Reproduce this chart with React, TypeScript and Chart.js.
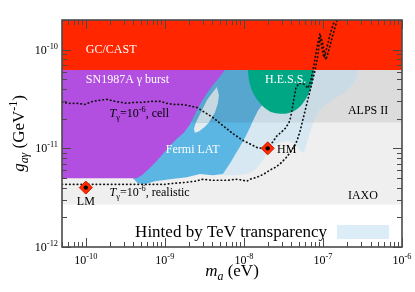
import React, { useEffect, useRef } from 'react';
import { Chart, registerables } from 'chart.js';

Chart.register(...registerables);

type Pt = [number, number];

// ---------- axes ----------
const xMin = 5e-11;
const xMax = 1e-6;
const yMin = 1e-12;
const yMax = 2e-10;
const xTickValues = [1e-10, 1e-9, 1e-8, 1e-7, 1e-6];
const yTickValues = [1e-12, 1e-11, 1e-10];

// ---------- regions: [m_a (eV), g_agamma (GeV^-1)] ----------
const iaxoBand: Pt[] = [[4.9e-11, 2.7e-12], [1.1e-6, 2.7e-12], [1.1e-6, 2.2e-10], [4.9e-11, 2.2e-10]];
const alpsBand: Pt[] = [[4.9e-11, 1.83e-11], [1.1e-6, 1.83e-11], [1.1e-6, 2.2e-10], [4.9e-11, 2.2e-10]];
const castRegion: Pt[] = [[4.9e-11, 6.24e-11], [1.1e-6, 6.24e-11], [1.1e-6, 2.2e-10], [4.9e-11, 2.2e-10]];

const hintedRegion: Pt[] = [
  [2.77e-9, 7.89e-11], [2.77e-7, 7.89e-11], [2.77e-7, 6.24e-11], [2.69e-7, 5.16e-11],
  [2.33e-7, 4.38e-11], [1.90e-7, 3.71e-11], [1.50e-7, 3.30e-11], [1.30e-7, 3.00e-11],
  [1.09e-7, 2.79e-11], [8.90e-8, 2.42e-11], [7.69e-8, 1.91e-11], [6.84e-8, 1.44e-11],
  [6.27e-8, 1.14e-11], [5.74e-8, 8.99e-12], [5.12e-8, 9.43e-12], [4.42e-8, 1.11e-11],
  [3.61e-8, 1.19e-11], [2.69e-8, 1.14e-11], [2.26e-8, 1.01e-11], [1.90e-8, 8.58e-12],
  [1.64e-8, 7.10e-12], [1.38e-8, 6.02e-12], [1.09e-8, 5.48e-12], [7.69e-9, 5.35e-12],
  [5.74e-9, 5.35e-12], [4.30e-9, 5.61e-12], [3.21e-9, 7.44e-12], [2.07e-9, 1.34e-11],
  [2.40e-9, 2.42e-11], [3.71e-9, 4.38e-11],
];

const fermiLat: Pt[] = [
  [3.6e-10, 7.89e-11], [1.69e-8, 7.89e-11], [1.69e-8, 2.73e-11], [1.50e-8, 2.42e-11],
  [1.34e-8, 2.01e-11], [1.19e-8, 1.62e-11], [1.03e-8, 1.28e-11], [8.90e-9, 1.04e-11],
  [7.69e-9, 8.58e-12], [6.84e-9, 7.27e-12], [6.09e-9, 6.31e-12], [5.42e-9, 5.48e-12],
  [4.05e-9, 5.35e-12], [2.77e-9, 5.48e-12], [1.90e-9, 5.10e-12], [1.16e-9, 4.86e-12],
  [7.47e-10, 4.64e-12], [5.58e-10, 4.32e-12], [4.55e-10, 4.43e-12], [3.94e-10, 4.98e-12],
  [3.6e-10, 5.88e-12],
];

const fermiLatUpper: Pt[] = [
  [4.30e-9, 7.89e-11], [1.69e-8, 7.89e-11], [1.69e-8, 2.73e-11], [1.50e-8, 2.42e-11],
  [1.34e-8, 2.01e-11], [1.26e-8, 1.83e-11], [1.79e-9, 1.83e-11],
];

const sn1987a: Pt[] = [
  [4.9e-11, 7.89e-11], [6.27e-9, 7.89e-11], [5.74e-9, 6.24e-11], [4.83e-9, 5.16e-11],
  [4.05e-9, 4.38e-11], [3.40e-9, 3.62e-11], [2.94e-9, 3.00e-11], [2.62e-9, 2.54e-11],
  [2.33e-9, 2.10e-11], [2.07e-9, 1.74e-11], [1.74e-9, 1.44e-11], [1.42e-9, 1.25e-11],
  [1.16e-9, 1.06e-11], [9.44e-10, 8.78e-12], [7.69e-10, 7.27e-12], [6.27e-10, 6.17e-12],
  [5.12e-10, 5.35e-12], [4.42e-10, 4.98e-12], [4.9e-11, 4.98e-12],
];

const gapUpper: Pt[] = [
  [4.55e-9, 4.18e-11], [4.83e-9, 3.45e-11], [4.69e-9, 2.86e-11], [4.30e-9, 2.31e-11],
  [3.71e-9, 1.91e-11], [3.61e-9, 1.83e-11], [2.47e-9, 1.83e-11], [2.54e-9, 1.91e-11],
  [2.94e-9, 2.42e-11], [3.40e-9, 3.07e-11], [3.94e-9, 3.62e-11],
];
const gapLower: Pt[] = [
  [3.61e-9, 1.83e-11], [3.21e-9, 1.66e-11], [2.69e-9, 1.48e-11], [2.40e-9, 1.44e-11],
  [2.33e-9, 1.58e-11], [2.47e-9, 1.83e-11],
];

const hess: Pt[] = [
  [1.06e-8, 7.89e-11], [1.12e-8, 6.24e-11], [1.16e-8, 4.92e-11], [1.26e-8, 3.89e-11],
  [1.46e-8, 3.14e-11], [1.74e-8, 2.67e-11], [2.13e-8, 2.37e-11], [2.69e-8, 2.26e-11],
  [3.50e-8, 2.26e-11], [4.42e-8, 2.42e-11], [5.42e-8, 2.79e-11], [6.46e-8, 3.45e-11],
  [7.26e-8, 4.48e-11], [7.69e-8, 5.95e-11], [7.92e-8, 7.89e-11],
];

// ---------- T_gamma = 1e-6 contours ----------
const cellLine: Pt[] = [
  [5.0e-11, 2.93e-11], [6.27e-11, 2.86e-11], [7.69e-11, 2.86e-11], [9.71e-11, 2.79e-11],
  [1.23e-10, 3.00e-11], [1.50e-10, 3.07e-11], [1.84e-10, 3.14e-11], [2.33e-10, 3.00e-11],
  [3.30e-10, 2.86e-11], [4.17e-10, 2.93e-11], [5.27e-10, 2.93e-11], [7.05e-10, 3.00e-11],
  [8.65e-10, 3.00e-11], [1.06e-9, 2.86e-11], [1.26e-9, 2.79e-11], [1.55e-9, 2.79e-11],
  [1.90e-9, 2.73e-11], [2.54e-9, 2.60e-11], [3.21e-9, 2.31e-11], [4.05e-9, 2.06e-11],
  [5.42e-9, 1.70e-11], [7.26e-9, 1.41e-11], [9.44e-9, 1.22e-11], [1.19e-8, 1.11e-11],
  [1.50e-8, 1.01e-11], [2.01e-8, 9.9e-12], [2.33e-8, 1.17e-11], [2.62e-8, 1.34e-11],
  [3.03e-8, 1.48e-11], [3.40e-8, 1.62e-11], [3.82e-8, 1.91e-11], [4.05e-8, 2.42e-11],
  [4.30e-8, 3.22e-11], [4.55e-8, 4.08e-11], [4.97e-8, 4.59e-11], [5.74e-8, 4.48e-11],
  [6.46e-8, 4.08e-11], [7.05e-8, 4.92e-11], [7.69e-8, 7.02e-11], [8.39e-8, 1.05e-10],
  [9.16e-8, 1.46e-10], [1.0e-7, 1.12e-10], [1.09e-7, 7.89e-11], [1.19e-7, 1.0e-10],
  [1.34e-7, 1.43e-10], [1.55e-7, 2.13e-10],
];

const realisticLine: Pt[] = [
  [5.0e-11, 4.32e-12], [1.50e-10, 4.32e-12], [4.42e-10, 4.32e-12], [1.0e-9, 4.32e-12],
  [1.34e-9, 4.43e-12], [1.90e-9, 4.53e-12], [2.40e-9, 4.64e-12], [3.03e-9, 4.86e-12],
  [3.94e-9, 4.75e-12], [4.97e-9, 4.75e-12], [6.27e-9, 4.75e-12], [8.15e-9, 4.86e-12],
  [9.71e-9, 4.75e-12], [1.09e-8, 4.64e-12], [1.19e-8, 4.86e-12], [1.46e-8, 5.10e-12],
  [1.79e-8, 5.48e-12], [2.13e-8, 6.02e-12], [2.54e-8, 6.46e-12], [2.94e-8, 7.10e-12],
  [3.40e-8, 8.00e-12], [3.82e-8, 8.99e-12], [4.30e-8, 1.04e-11], [4.69e-8, 1.19e-11],
  [5.12e-8, 1.48e-11], [5.58e-8, 1.96e-11], [6.09e-8, 2.60e-11], [6.65e-8, 3.45e-11],
  [7.26e-8, 4.59e-11], [7.92e-8, 6.09e-11], [8.65e-8, 8.89e-11], [9.16e-8, 1.33e-10],
  [9.71e-8, 1.05e-10], [1.03e-7, 8.28e-11], [1.12e-7, 1.05e-10], [1.26e-7, 1.53e-10],
  [1.42e-7, 2.03e-10],
];

// ---------- benchmark models ----------
const markerNames = ['LM', 'HM'];
const markerM = [1e-10, 2.0e-8];
const markerG = [4.0e-12, 1.0e-11];

// ---------- region labels ----------
const labelTexts = ['GC/CAST', 'SN1987A γ burst', 'H.E.S.S.', 'Fermi LAT', 'ALPS II', 'IAXO', 'HM', 'LM'];
const labelM = [1e-10, 1e-10, 1.85e-8, 1.03e-9, 2.07e-7, 2.07e-7, 2.62e-8, 1e-10];
const labelG = [9.31e-11, 4.59e-11, 4.59e-11, 8.99e-12, 2.21e-11, 3.10e-12, 8.99e-12, 2.64e-12];
const labelColors = ['#fff', '#fff', '#fff', '#fff', '#000', '#000', '#000', '#000'];
const labelAlign = ['left', 'left', 'left', 'left', 'left', 'left', 'left', 'center'];

const contourLabelSuffix = [', cell', ', realistic'];
const contourLabelM = [2.0e-10, 2.0e-10];
const contourLabelG = [2.06e-11, 3.26e-12];

const legendLabel = 'Hinted by TeV transparency';

// ---------- helpers ----------
const FONT = '"Liberation Serif", "Times New Roman", Times, serif';

type Seg = { t: string; it?: boolean; sub?: boolean; sup?: boolean };

function segFont(s: Seg, size: number) {
  const sz = s.sub || s.sup ? size * 0.7 : size;
  return `${s.it ? 'italic ' : ''}${sz}px ${FONT}`;
}
function richWidth(ctx: CanvasRenderingContext2D, segs: Seg[], size: number) {
  let w = 0;
  for (const s of segs) {
    ctx.font = segFont(s, size);
    w += ctx.measureText(s.t).width;
  }
  return w;
}
function drawRich(ctx: CanvasRenderingContext2D, segs: Seg[], x: number, y: number, size: number, align: string) {
  const total = richWidth(ctx, segs, size);
  let cx = align === 'center' ? x - total / 2 : align === 'right' ? x - total : x;
  ctx.textBaseline = 'alphabetic';
  ctx.textAlign = 'left';
  for (const s of segs) {
    ctx.font = segFont(s, size);
    const dy = s.sub ? size * 0.25 : s.sup ? -size * 0.42 : 0;
    ctx.fillText(s.t, cx, y + dy);
    cx += ctx.measureText(s.t).width;
  }
}
const decadeSegs = (v: number): Seg[] => [{ t: '10' }, { t: String(Math.round(Math.log10(v))), sup: true }];

const toXY = (pts: Pt[]) => pts.map(([x, y]) => ({ x, y }));

function region(pts: Pt[], color: string, tension = 0) {
  return {
    type: 'line' as const,
    data: toXY(pts),
    fill: 'shape',
    backgroundColor: color,
    borderWidth: 0,
    pointRadius: 0,
    tension,
  };
}
function dotted(pts: Pt[]) {
  return {
    type: 'line' as const,
    data: toXY(pts),
    fill: false,
    borderColor: '#111',
    borderWidth: 1.7,
    borderDash: [0.5, 3.3],
    borderCapStyle: 'round',
    pointRadius: 0,
    tension: 0,
  };
}

const overlayPlugin = {
  id: 'overlay',
  afterDatasetsDraw(chart: any) {
    const ctx: CanvasRenderingContext2D = chart.ctx;
    const xs = chart.scales.x;
    const ys = chart.scales.y;
    const a = chart.chartArea;
    ctx.save();
    ctx.beginPath();
    ctx.rect(a.left, a.top, a.right - a.left, a.bottom - a.top);
    ctx.clip();
    labelTexts.forEach((t, i) => {
      ctx.fillStyle = labelColors[i];
      drawRich(ctx, [{ t }], xs.getPixelForValue(labelM[i]), ys.getPixelForValue(labelG[i]), 12, labelAlign[i]);
    });
    ctx.fillStyle = '#000';
    contourLabelSuffix.forEach((suf, i) => {
      drawRich(
        ctx,
        [{ t: 'T', it: true }, { t: 'γ', sub: true }, { t: '=10' }, { t: '-6', sup: true }, { t: suf }],
        xs.getPixelForValue(contourLabelM[i]),
        ys.getPixelForValue(contourLabelG[i]),
        12,
        'left'
      );
    });
    // legend
    const boxRight = a.right - 13;
    const boxLeft = boxRight - 52;
    const boxBottom = a.bottom - 8;
    ctx.fillStyle = '#dcedf8';
    ctx.fillRect(boxLeft, boxBottom - 14, 52, 14);
    ctx.fillStyle = '#000';
    drawRich(ctx, [{ t: legendLabel }], boxLeft - 10, a.bottom - 10, 17, 'right');
    ctx.restore();
  },
  afterDraw(chart: any) {
    const ctx: CanvasRenderingContext2D = chart.ctx;
    const xs = chart.scales.x;
    const ys = chart.scales.y;
    const { left, right, top, bottom } = chart.chartArea;
    ctx.save();
    ctx.strokeStyle = '#4a4a4a';
    ctx.lineWidth = 1;
    ctx.beginPath();
    for (let e = -11; e <= -6; e++) {
      for (let k = 1; k <= 9; k++) {
        const v = k * Math.pow(10, e);
        if (v < xMin * 0.999 || v > xMax * 1.001) continue;
        const px = Math.round(xs.getPixelForValue(v)) + 0.5;
        const len = k === 1 ? 9 : 5;
        ctx.moveTo(px, bottom);
        ctx.lineTo(px, bottom - len);
        ctx.moveTo(px, top);
        ctx.lineTo(px, top + len);
      }
    }
    for (let e = -13; e <= -9; e++) {
      for (let k = 1; k <= 9; k++) {
        const v = k * Math.pow(10, e);
        if (v < yMin * 0.999 || v > yMax * 1.001) continue;
        const py = Math.round(ys.getPixelForValue(v)) + 0.5;
        const len = k === 1 ? 9 : 5;
        ctx.moveTo(left, py);
        ctx.lineTo(left + len, py);
        ctx.moveTo(right, py);
        ctx.lineTo(right - len, py);
      }
    }
    ctx.stroke();
    ctx.lineWidth = 1.6;
    ctx.strokeRect(left, top, right - left, bottom - top);

    // tick labels
    ctx.fillStyle = '#000';
    xTickValues.forEach((v) => {
      drawRich(ctx, decadeSegs(v), xs.getPixelForValue(v), bottom + 17, 12, 'center');
    });
    yTickValues.forEach((v) => {
      drawRich(ctx, decadeSegs(v), left - 4, ys.getPixelForValue(v) + 4, 12, 'right');
    });

    // axis titles
    drawRich(
      ctx,
      [{ t: 'm', it: true }, { t: 'a', it: true, sub: true }, { t: ' (eV)' }],
      (left + right) / 2,
      bottom + 29,
      17,
      'center'
    );
    ctx.translate(left - 38, (top + bottom) / 2);
    ctx.rotate(-Math.PI / 2);
    drawRich(
      ctx,
      [{ t: 'g', it: true }, { t: 'aγ', it: true, sub: true }, { t: ' (GeV' }, { t: '-1', sup: true }, { t: ')' }],
      0,
      0,
      17,
      'center'
    );
    ctx.restore();
  },
};

export default function App() {
  const ref = useRef<HTMLCanvasElement>(null);
  useEffect(() => {
    const canvas = ref.current;
    if (!canvas) return;
    const layers: any[] = [
      region(iaxoBand, '#efefef'),
      region(alpsBand, '#dcdcdc'),
      region(hintedRegion, 'rgba(165,218,248,0.32)'),
      region(fermiLat, '#5cb6e3'),
      region(fermiLatUpper, '#56a6cf'),
      region(sn1987a, '#b24fe0'),
      region(gapUpper, '#c6d9e3'),
      region(gapLower, '#e4ecf1'),
      region(hess, '#00a785', 0.3),
      region(castRegion, '#ff2600'),
      dotted(cellLine),
      dotted(realisticLine),
      {
        type: 'line',
        label: markerNames.join(','),
        data: markerM.map((m, i) => ({ x: m, y: markerG[i] })),
        showLine: false,
        fill: false,
        pointStyle: 'rectRot',
        pointRadius: 6.5,
        pointBackgroundColor: '#ff2a00',
        pointBorderColor: '#d01800',
        pointBorderWidth: 1,
      },
      {
        type: 'line',
        data: markerM.map((m, i) => ({ x: m, y: markerG[i] })),
        showLine: false,
        fill: false,
        pointStyle: 'circle',
        pointRadius: 2.2,
        pointBackgroundColor: '#000',
        pointBorderColor: '#000',
        pointBorderWidth: 0,
      },
    ];
    const n = layers.length;
    const datasets = layers.map((d, i) => ({ ...d, order: n - i }));

    const chart = new Chart(canvas, {
      type: 'line',
      data: { datasets },
      options: {
        responsive: false,
        animation: false,
        events: [],
        layout: { padding: { top: 20, right: 13, left: 0, bottom: 0 } },
        plugins: {
          legend: { display: false },
          tooltip: { enabled: false },
          filler: { propagate: false },
        },
        scales: {
          x: {
            type: 'logarithmic',
            min: xMin,
            max: xMax,
            grid: { display: false, drawTicks: false },
            border: { display: false },
            ticks: { display: false },
            afterBuildTicks: (s: any) => {
              s.ticks = xTickValues.map((value) => ({ value }));
            },
            afterFit: (s: any) => {
              s.height = 45;
            },
          },
          y: {
            type: 'logarithmic',
            min: yMin,
            max: yMax,
            grid: { display: false, drawTicks: false },
            border: { display: false },
            ticks: { display: false },
            afterBuildTicks: (s: any) => {
              s.ticks = yTickValues.map((value) => ({ value }));
            },
            afterFit: (s: any) => {
              s.width = 62;
            },
          },
        },
      } as any,
      plugins: [overlayPlugin],
    });
    return () => chart.destroy();
  }, []);

  return (
    <div style={{ position: 'fixed', left: 0, top: 0, width: 415, height: 292, background: '#fff' }}>
      <canvas ref={ref} width={415} height={292} style={{ display: 'block', width: 415, height: 292 }} />
    </div>
  );
}
